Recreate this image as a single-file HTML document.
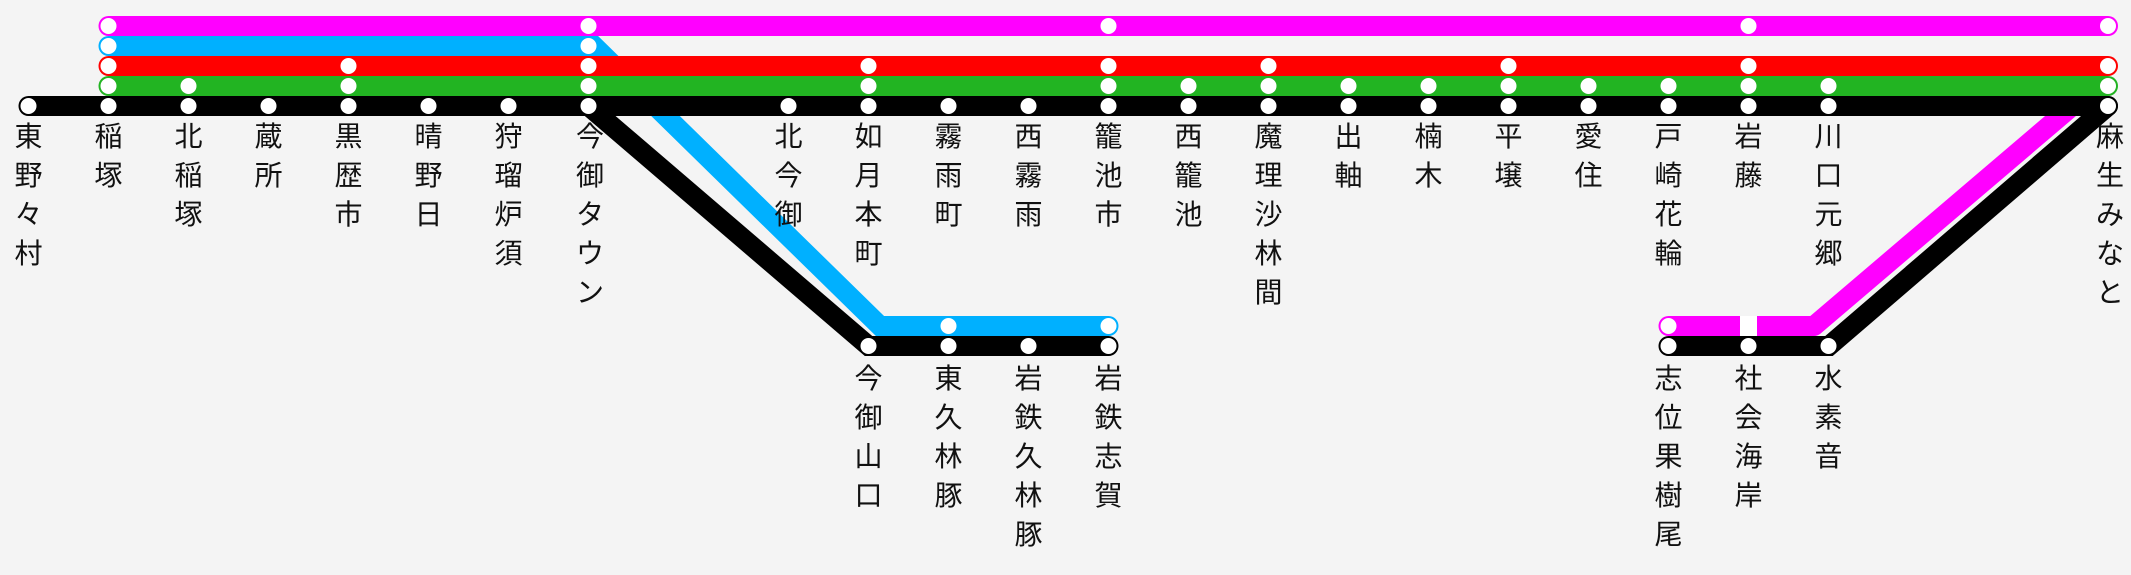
<!DOCTYPE html>
<html><head><meta charset="utf-8"><style>
html,body{margin:0;padding:0;background:#f4f4f4;}
svg{display:block;}
text{font-family:"Liberation Sans","Noto Sans CJK JP",sans-serif;font-size:28px;fill:#111;text-anchor:middle;}
</style></head><body>
<svg width="2131" height="575" viewBox="0 0 2131 575" xmlns="http://www.w3.org/2000/svg">
<rect width="2131" height="575" fill="#f4f4f4"/>
<g fill="none" stroke-width="20" stroke-linecap="round" stroke-linejoin="round">
<line x1="108.5" y1="26" x2="2108" y2="26" stroke="#ff00ff"/>
<polyline points="2084,96 1814,326 1668.5,326" stroke="#ff00ff" stroke-linecap="butt"/>
<line x1="1668.5" y1="326" x2="1700" y2="326" stroke="#ff00ff"/>
<polyline points="108.5,46 594,46 880,326 1108.5,326" stroke="#00b0ff" stroke-linejoin="miter"/>
<line x1="108.5" y1="66" x2="2108" y2="66" stroke="#ff0000"/>
<line x1="108.5" y1="86" x2="2108" y2="86" stroke="#22b422"/>
<line x1="28.5" y1="106" x2="2108" y2="106" stroke="#000"/>
<polyline points="588.5,106 868.5,346 1108.5,346" stroke="#000" stroke-linejoin="miter"/>
<polyline points="2108,106 1829,346 1668.5,346" stroke="#000" stroke-linejoin="miter"/>
</g>
<g fill="#fff">
<circle cx="108.5" cy="26" r="8"/><circle cx="588.5" cy="26" r="8"/><circle cx="1108.5" cy="26" r="8"/><circle cx="1748.5" cy="26" r="8"/><circle cx="2108" cy="26" r="8"/>
<circle cx="1668.5" cy="326" r="8"/><rect x="1740" y="316" width="17" height="20"/>
<circle cx="108.5" cy="46" r="8"/><circle cx="588.5" cy="46" r="8"/><circle cx="948.5" cy="326" r="8"/><circle cx="1108.5" cy="326" r="8"/>
<circle cx="108.5" cy="66" r="8"/><circle cx="348.5" cy="66" r="8"/><circle cx="588.5" cy="66" r="8"/><circle cx="868.5" cy="66" r="8"/><circle cx="1108.5" cy="66" r="8"/><circle cx="1268.5" cy="66" r="8"/><circle cx="1508.5" cy="66" r="8"/><circle cx="1748.5" cy="66" r="8"/><circle cx="2108" cy="66" r="8"/>
<circle cx="108.5" cy="86" r="8"/><circle cx="188.5" cy="86" r="8"/><circle cx="348.5" cy="86" r="8"/><circle cx="588.5" cy="86" r="8"/><circle cx="868.5" cy="86" r="8"/><circle cx="1108.5" cy="86" r="8"/><circle cx="1188.5" cy="86" r="8"/><circle cx="1268.5" cy="86" r="8"/><circle cx="1348.5" cy="86" r="8"/><circle cx="1428.5" cy="86" r="8"/><circle cx="1508.5" cy="86" r="8"/><circle cx="1588.5" cy="86" r="8"/><circle cx="1668.5" cy="86" r="8"/><circle cx="1748.5" cy="86" r="8"/><circle cx="1828.5" cy="86" r="8"/><circle cx="2108" cy="86" r="8"/>
<circle cx="28.5" cy="106" r="8"/><circle cx="108.5" cy="106" r="8"/><circle cx="188.5" cy="106" r="8"/><circle cx="268.5" cy="106" r="8"/><circle cx="348.5" cy="106" r="8"/><circle cx="428.5" cy="106" r="8"/><circle cx="508.5" cy="106" r="8"/><circle cx="588.5" cy="106" r="8"/><circle cx="788.5" cy="106" r="8"/><circle cx="868.5" cy="106" r="8"/><circle cx="948.5" cy="106" r="8"/><circle cx="1028.5" cy="106" r="8"/><circle cx="1108.5" cy="106" r="8"/><circle cx="1188.5" cy="106" r="8"/><circle cx="1268.5" cy="106" r="8"/><circle cx="1348.5" cy="106" r="8"/><circle cx="1428.5" cy="106" r="8"/><circle cx="1508.5" cy="106" r="8"/><circle cx="1588.5" cy="106" r="8"/><circle cx="1668.5" cy="106" r="8"/><circle cx="1748.5" cy="106" r="8"/><circle cx="1828.5" cy="106" r="8"/><circle cx="2108" cy="106" r="8"/>
<circle cx="868.5" cy="346" r="8"/><circle cx="948.5" cy="346" r="8"/><circle cx="1028.5" cy="346" r="8"/><circle cx="1108.5" cy="346" r="8"/>
<circle cx="1668.5" cy="346" r="8"/><circle cx="1748.5" cy="346" r="8"/><circle cx="1828.5" cy="346" r="8"/>
</g>
<g>
<text x="28.5" y="146"><tspan x="28.5">東</tspan><tspan x="28.5" dy="39">野</tspan><tspan x="28.5" dy="39">々</tspan><tspan x="28.5" dy="39">村</tspan></text>
<text y="146"><tspan x="108.5">稲</tspan><tspan x="108.5" dy="39">塚</tspan></text>
<text y="146"><tspan x="188.5">北</tspan><tspan x="188.5" dy="39">稲</tspan><tspan x="188.5" dy="39">塚</tspan></text>
<text y="146"><tspan x="268.5">蔵</tspan><tspan x="268.5" dy="39">所</tspan></text>
<text y="146"><tspan x="348.5">黒</tspan><tspan x="348.5" dy="39">歴</tspan><tspan x="348.5" dy="39">市</tspan></text>
<text y="146"><tspan x="428.5">晴</tspan><tspan x="428.5" dy="39">野</tspan><tspan x="428.5" dy="39">日</tspan></text>
<text y="146"><tspan x="508.5">狩</tspan><tspan x="508.5" dy="39">瑠</tspan><tspan x="508.5" dy="39">炉</tspan><tspan x="508.5" dy="39">須</tspan></text>
<text y="146"><tspan x="590">今</tspan><tspan x="590" dy="39">御</tspan><tspan x="590" dy="39">タ</tspan><tspan x="590" dy="39">ウ</tspan><tspan x="590" dy="39">ン</tspan></text>
<text y="146"><tspan x="788.5">北</tspan><tspan x="788.5" dy="39">今</tspan><tspan x="788.5" dy="39">御</tspan></text>
<text y="146"><tspan x="868.5">如</tspan><tspan x="868.5" dy="39">月</tspan><tspan x="868.5" dy="39">本</tspan><tspan x="868.5" dy="39">町</tspan></text>
<text y="146"><tspan x="948.5">霧</tspan><tspan x="948.5" dy="39">雨</tspan><tspan x="948.5" dy="39">町</tspan></text>
<text y="146"><tspan x="1028.5">西</tspan><tspan x="1028.5" dy="39">霧</tspan><tspan x="1028.5" dy="39">雨</tspan></text>
<text y="146"><tspan x="1108.5">籠</tspan><tspan x="1108.5" dy="39">池</tspan><tspan x="1108.5" dy="39">市</tspan></text>
<text y="146"><tspan x="1188.5">西</tspan><tspan x="1188.5" dy="39">籠</tspan><tspan x="1188.5" dy="39">池</tspan></text>
<text y="146"><tspan x="1268.5">魔</tspan><tspan x="1268.5" dy="39">理</tspan><tspan x="1268.5" dy="39">沙</tspan><tspan x="1268.5" dy="39">林</tspan><tspan x="1268.5" dy="39">間</tspan></text>
<text y="146"><tspan x="1348.5">出</tspan><tspan x="1348.5" dy="39">軸</tspan></text>
<text y="146"><tspan x="1428.5">楠</tspan><tspan x="1428.5" dy="39">木</tspan></text>
<text y="146"><tspan x="1508.5">平</tspan><tspan x="1508.5" dy="39">壌</tspan></text>
<text y="146"><tspan x="1588.5">愛</tspan><tspan x="1588.5" dy="39">住</tspan></text>
<text y="146"><tspan x="1668.5">戸</tspan><tspan x="1668.5" dy="39">崎</tspan><tspan x="1668.5" dy="39">花</tspan><tspan x="1668.5" dy="39">輪</tspan></text>
<text y="146"><tspan x="1748.5">岩</tspan><tspan x="1748.5" dy="39">藤</tspan></text>
<text y="146"><tspan x="1828.5">川</tspan><tspan x="1828.5" dy="39">口</tspan><tspan x="1828.5" dy="39">元</tspan><tspan x="1828.5" dy="39">郷</tspan></text>
<text y="146"><tspan x="2110">麻</tspan><tspan x="2110" dy="39">生</tspan><tspan x="2110" dy="39">み</tspan><tspan x="2110" dy="39">な</tspan><tspan x="2110" dy="39">と</tspan></text>
<text y="388"><tspan x="868.5">今</tspan><tspan x="868.5" dy="39">御</tspan><tspan x="868.5" dy="39">山</tspan><tspan x="868.5" dy="39">口</tspan></text>
<text y="388"><tspan x="948.5">東</tspan><tspan x="948.5" dy="39">久</tspan><tspan x="948.5" dy="39">林</tspan><tspan x="948.5" dy="39">豚</tspan></text>
<text y="388"><tspan x="1028.5">岩</tspan><tspan x="1028.5" dy="39">鉄</tspan><tspan x="1028.5" dy="39">久</tspan><tspan x="1028.5" dy="39">林</tspan><tspan x="1028.5" dy="39">豚</tspan></text>
<text y="388"><tspan x="1108.5">岩</tspan><tspan x="1108.5" dy="39">鉄</tspan><tspan x="1108.5" dy="39">志</tspan><tspan x="1108.5" dy="39">賀</tspan></text>
<text y="388"><tspan x="1668.5">志</tspan><tspan x="1668.5" dy="39">位</tspan><tspan x="1668.5" dy="39">果</tspan><tspan x="1668.5" dy="39">樹</tspan><tspan x="1668.5" dy="39">尾</tspan></text>
<text y="388"><tspan x="1748.5">社</tspan><tspan x="1748.5" dy="39">会</tspan><tspan x="1748.5" dy="39">海</tspan><tspan x="1748.5" dy="39">岸</tspan></text>
<text y="388"><tspan x="1828.5">水</tspan><tspan x="1828.5" dy="39">素</tspan><tspan x="1828.5" dy="39">音</tspan></text>
</g>
</svg>
</body></html>
